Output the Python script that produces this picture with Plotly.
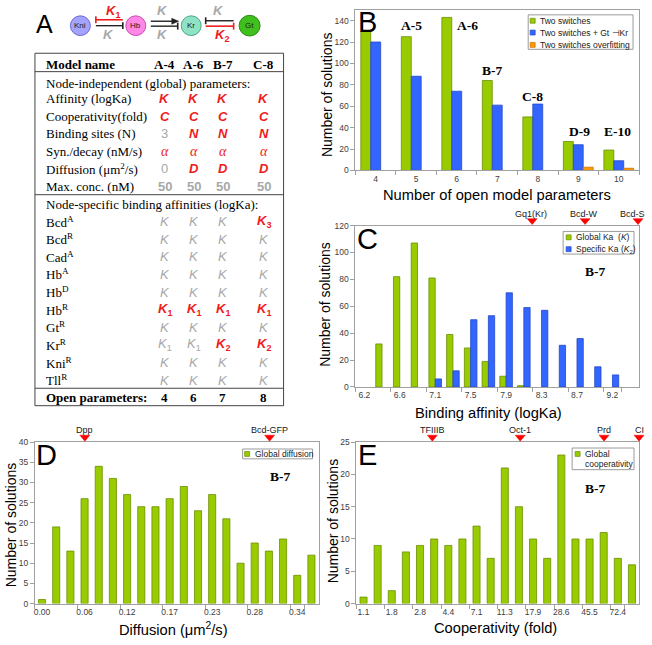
import plotly.graph_objects as go

W, H = 652, 645
def X(x): return x / W
def Y(y): return 1 - y / H

SANS = "Liberation Sans, Arial"
SERIF = "Liberation Serif, Times New Roman"
RED = "#ee1c1c"
GRAY = "#a8a8a8"
GREEN = "#99cc00"; GREEN_L = "#6b8e00"
BLUE = "#3366ff"; BLUE_L = "#2448c8"
ORANGE = "#ff9900"; ORANGE_L = "#c87000"

# ---------------- data ----------------
b_params = ["4", "5", "6", "7", "8", "9", "10"]
b_two_switches = [130, 125, 143, 84, 50, 27, 19]
b_two_switches_gt_kr = [120, 88, 74, 61, 62, 24, 9]
b_overfitting = [None, None, None, None, None, 3, 2]
b_model_labels = ["A-5", "A-6", "B-7", "C-8", "D-9", "E-10"]

c_logka = ["6.2", "6.4", "6.6", "6.9", "7.1", "7.3", "7.5", "7.7", "7.9", "8.1",
           "8.3", "8.5", "8.7", "9.0", "9.2", "9.4"]
c_global = [None, 32, 82, 107, 81, 39, 29, 19, 8, 1, None, None, None, None, None, None]
c_specific = [None, None, None, None, 6, 12, 50, 53, 70, 59, 57, 31, 36, 15, 9, None]
c_tick_labels = ["6.2", "6.6", "7.1", "7.5", "7.9", "8.3", "8.7", "9.2"]
c_refs = ["Gq1(Kr)", "Bcd-W", "Bcd-S"]

d_diffusion = ["0.00", "0.02", "0.04", "0.06", "0.08", "0.10", "0.12", "0.13", "0.15", "0.17",
               "0.19", "0.21", "0.23", "0.25", "0.27", "0.28", "0.30", "0.32", "0.34", "0.36"]
d_counts = [1, 19, 13, 26, 34, 31, 27, 24, 24, 26, 29, 23, 27, 21, 10, 15, 13, 16, 7, 12]
d_tick_labels = ["0.00", "0.06", "0.12", "0.17", "0.23", "0.28", "0.34"]
d_refs = ["Dpp", "Bcd-GFP"]

e_coop = ["1.1", "1.4", "1.8", "2.2", "2.8", "3.5", "4.4", "5.6", "7.1", "9.0",
          "11.3", "14.2", "17.9", "22.6", "28.6", "36.0", "45.5", "57.4", "72.4", "91.2"]
e_counts = [1, 9, 2, 8, 9, 10, 9, 10, 12, 7, 21, 15, 10, 7, 23, 10, 10, 11, 7, 6]
e_tick_labels = ["1.1", "1.8", "2.8", "4.4", "7.1", "11.3", "17.9", "28.6", "45.5", "72.4"]
e_refs = ["TFIIIB", "Oct-1", "Prd", "CI"]

# table A
models = ["A-4", "A-6", "B-7", "C-8"]
global_params = [
    ("Affinity (logKa)", ["rK", "rK", "rK", "rK"]),
    ("Cooperativity(fold)", ["rC", "rC", "rC", "rC"]),
    ("Binding sites (N)", ["g3", "rN", "rN", "rN"]),
    ("Syn./decay (nM/s)", ["rα", "rα", "rα", "rα"]),
    ("Diffusion (μm<sup>2</sup>/s)", ["g0", "rD", "rD", "rD"]),
    ("Max. conc. (nM)", ["g50", "g50", "g50", "g50"]),
]
specific_params = [
    ("Bcd<sup>A</sup>", ["gK", "gK", "gK", "rK3"]),
    ("Bcd<sup>R</sup>", ["gK", "gK", "gK", "gK"]),
    ("Cad<sup>A</sup>", ["gK", "gK", "gK", "gK"]),
    ("Hb<sup>A</sup>", ["gK", "gK", "gK", "gK"]),
    ("Hb<sup>D</sup>", ["gK", "gK", "gK", "gK"]),
    ("Hb<sup>R</sup>", ["rK1", "rK1", "rK1", "rK1"]),
    ("Gt<sup>R</sup>", ["gK", "gK", "gK", "gK"]),
    ("Kr<sup>R</sup>", ["gK1", "gK1", "rK2", "rK2"]),
    ("Kni<sup>R</sup>", ["gK", "gK", "gK", "gK"]),
    ("Tll<sup>R</sup>", ["gK", "gK", "gK", "gK"]),
]
open_params = ["4", "6", "7", "8"]

fig = go.Figure()

# ---------------- bars ----------------
def bar(x, y, color, lc, width, offset, xa, ya):
    return go.Bar(x=x, y=y, marker=dict(color=color, line=dict(color=lc, width=0.8)),
                  width=width, offset=offset, xaxis=xa, yaxis=ya, showlegend=False,
                  hoverinfo="x+y")

fig.add_trace(bar(b_params, b_two_switches, GREEN, GREEN_L, 0.245, -0.3675, "x", "y"))
fig.add_trace(bar(b_params, b_two_switches_gt_kr, BLUE, BLUE_L, 0.245, -0.1225, "x", "y"))
fig.add_trace(bar(b_params, b_overfitting, ORANGE, ORANGE_L, 0.245, 0.1225, "x", "y"))

fig.add_trace(bar(c_logka, c_global, GREEN, GREEN_L, 0.355, -0.355, "x2", "y2"))
fig.add_trace(bar(c_logka, c_specific, BLUE, BLUE_L, 0.355, 0.0, "x2", "y2"))

fig.add_trace(bar(d_diffusion, d_counts, GREEN, GREEN_L, 0.5, -0.25, "x3", "y3"))
fig.add_trace(bar(e_coop, e_counts, GREEN, GREEN_L, 0.5, -0.25, "x4", "y4"))

AXC = "#a0a0a0"
def xax(x0, x1, cats, ticks, anchor):
    return dict(domain=[X(x0), X(x1)], anchor=anchor, type="category",
                categoryorder="array", categoryarray=cats,
                tickmode="array", tickvals=ticks, ticktext=ticks, tickangle=0,
                tickson="boundaries", ticks="outside", ticklen=4, tickcolor=AXC,
                showline=True, linecolor=AXC, linewidth=1, mirror=True, showgrid=False,
                tickfont=dict(family=SANS, size=8.5, color="#404040"),
                range=[-0.5, len(cats) - 0.5], fixedrange=True)

def yax(y0, y1, rng, dtick, anchor):
    return dict(domain=[Y(y1), Y(y0)], anchor=anchor, range=rng, dtick=dtick,
                ticks="outside", ticklen=4, tickcolor=AXC, showline=True, linecolor=AXC,
                linewidth=1, mirror=True, showgrid=False, zeroline=False,
                tickfont=dict(family=SANS, size=8.5, color="#404040"), fixedrange=True)

anns = []
shapes = []

def text(x, y, t, size=9, family=SANS, color="black", xanchor="center", yanchor="middle", angle=0):
    anns.append(dict(x=X(x), y=Y(y), xref="paper", yref="paper", text=t, showarrow=False,
                     xanchor=xanchor, yanchor=yanchor, textangle=angle,
                     font=dict(family=family, size=size, color=color)))

def ytitle(x, y):
    text(x, y, "Number of solutions", size=14, angle=-90)

def line(x0, y0, x1, y1, color="black", width=1):
    shapes.append(dict(type="line", xref="paper", yref="paper", x0=X(x0), y0=Y(y0),
                       x1=X(x1), y1=Y(y1), line=dict(color=color, width=width)))

def rect(x0, y0, x1, y1, fill="rgba(0,0,0,0)", lc="black", lw=1):
    shapes.append(dict(type="rect", xref="paper", yref="paper", x0=X(x0), y0=Y(y1),
                       x1=X(x1), y1=Y(y0), fillcolor=fill, line=dict(color=lc, width=lw)))

def tri(x, ytip, color="#ff0000"):
    path = f"M {X(x-5)},{Y(ytip-6)} L {X(x+5)},{Y(ytip-6)} L {X(x)},{Y(ytip)} Z"
    shapes.append(dict(type="path", xref="paper", yref="paper", path=path,
                       fillcolor=color, line=dict(color=color, width=0.5)))

def legend_box(x0, y0, x1, y1, items):
    rect(x0, y0, x1, y1, fill="white", lc="#9a9a9a", lw=1)
    for (sx, sy, color, lc, label) in items:
        rect(sx, sy - 2.5, sx + 5, sy + 2.5, fill=color, lc=lc, lw=0.7)
        text(sx + 8, sy, label, size=8.5, color="#202020", xanchor="left")

# ---------------- Panel B ----------------
text(367, 17, "B", size=29)
for lab, (x, y) in zip(b_model_labels, [(411, 21), (467, 21), (492, 67), (532, 93), (579, 129), (617, 129)]):
    text(x, y, "<b>" + lab + "</b>", size=13.5, family=SERIF)
legend_box(528, 10, 633, 45, [
    (530, 16, GREEN, GREEN_L, "Two switches"),
    (530, 28, BLUE, BLUE_L, "Two switches + Gt ⊣Kr"),
    (530, 40.5, ORANGE, ORANGE_L, "Two switches overfitting"),
])
text(497, 193, "Number of open model parameters", size=14.7)
ytitle(326, 91)

# ---------------- Panel C ----------------
text(367, 238, "C", size=29)
text(595, 271, "<b>B-7</b>", size=13.5, family=SERIF)
legend_box(563, 230, 634, 253, [
    (566, 236, GREEN, GREEN_L, "Global Ka  (<i>K</i>)"),
    (566, 248, BLUE, BLUE_L, "Specific Ka (<i>K</i><sub>2</sub>)"),
])
for lab, x in zip(c_refs, [532, 585, 638]):
    tri(x, 223)
    tx = min(x - 1, 632)
    text(tx, 212, lab, size=9, color="#202020")
text(488, 414, "Binding affinity (logKa)", size=14.7)
ytitle(325, 304)

# ---------------- Panel D ----------------
text(46, 457, "D", size=29)
text(280, 479, "<b>B-7</b>", size=13.5, family=SERIF)
legend_box(242, 451, 312, 461, [(244, 456, GREEN, GREEN_L, "Global diffusion")])
for lab, x in zip(d_refs, [84, 269]):
    tri(x, 443)
    text(x, 432, lab, size=9, color="#202020")
text(173, 634, "Diffusion (μm<sup>2</sup>/s)", size=14.7)
ytitle(9.5, 528)

# ---------------- Panel E ----------------
text(367, 457, "E", size=29)
text(595, 491, "<b>B-7</b>", size=13.5, family=SERIF)
rect(572, 450, 634, 472, fill="white", lc="#9a9a9a")
rect(575, 453.5, 580, 458.5, fill=GREEN, lc=GREEN_L, lw=0.7)
text(583, 456, "Global", size=8.5, color="#202020", xanchor="left")
text(583, 466, "cooperativity", size=8.5, color="#202020", xanchor="left")
for lab, x in zip(e_refs, [432, 520, 604, 639]):
    tri(x, 443)
    text(x, 432, lab, size=9, color="#202020")
text(495, 633, "Cooperativity (fold)", size=14.7)
ytitle(332, 524)

# ---------------- Panel A: diagram ----------------
text(44, 19, "A", size=25)
def circle(cx, cy, r, fill, lc, label):
    shapes.append(dict(type="circle", xref="paper", yref="paper", x0=X(cx - r), x1=X(cx + r),
                       y0=Y(cy + r), y1=Y(cy - r), fillcolor=fill, line=dict(color=lc, width=1)))
    text(cx, cy, label, size=8, color="#202020")

circle(79.5, 21, 10, "#a4a4ff", "#6a6ad0", "Kni")
circle(135, 21, 10, "#ff88e6", "#c84cb0", "Hb")
circle(190.5, 21, 10, "#8fe2c4", "#4aa888", "Kr")
circle(249, 21, 10.5, "#3fc01c", "#2a8a10", "Gt")

DK = "#222222"
def tbar(x, y, color):
    line(x, y - 3.5, x, y + 3.5, color, 1.6)
# Kni - Hb
line(95, 15, 122, 15, RED, 1.6); tbar(95, 15, RED)
line(95, 21, 122, 21, DK, 1.4); tbar(122, 21, DK)
# Hb - Kr
line(150, 16.5, 172, 16.5, DK, 1.4)
shapes.append(dict(type="path", xref="paper", yref="paper",
                   path=f"M {X(171)},{Y(13.5)} L {X(178)},{Y(16.5)} L {X(171)},{Y(19.5)} Z",
                   fillcolor=DK, line=dict(color=DK, width=0.5)))
line(150, 21.5, 177, 21.5, DK, 1.4); tbar(177, 21.5, DK)
# Kr - Gt
line(205, 16, 233, 16, DK, 1.4); tbar(205, 16, DK)
line(205, 21.5, 233, 21.5, RED, 1.6); tbar(233, 21.5, RED)

def ktxt(x, y, t, color):
    text(x, y, t, size=13, color=color)
ktxt(112, 7, "<b><i>K</i><sub>1</sub></b>", RED)
ktxt(108, 30, "<b><i>K</i></b>", GRAY)
ktxt(162, 6, "<b><i>K</i></b>", GRAY)
ktxt(162, 30, "<b><i>K</i></b>", GRAY)
ktxt(218, 6, "<b><i>K</i></b>", GRAY)
ktxt(221, 31, "<b><i>K</i><sub>2</sub></b>", RED)

# ---------------- Panel A: table ----------------
TL, TR, TT, TB = 34, 283, 49, 407
rect(TL, TT, TR, TB, lc="#444444", lw=1)
for yy in [67.7, 192.7, 389.3]:
    line(TL, yy, TR, yy, "#444444", 1)
cols = [164, 193, 222, 263]
LX = 43
text(LX, 60.5, "<b>Model name</b>", size=13, family=SERIF, xanchor="left")
for cx, m in zip(cols, models):
    text(cx, 60.5, "<b>" + m + "</b>", size=13, family=SERIF)
text(LX, 79.3, "Node-independent (global) parameters:", size=13, family=SERIF, xanchor="left")
text(LX, 203, "Node-specific binding affinities (logKa):", size=13, family=SERIF, xanchor="left")

def cell(cx, cy, v):
    color = RED if v[0] == "r" else GRAY
    s = v[1:]
    if s == "α":
        text(cx, cy, "<i>α</i>", size=14, family=SERIF, color=color)
        return
    if s.isdigit():
        t = "<b>" + s + "</b>" if len(s) > 1 else s
        text(cx, cy, t, size=13, color=color)
        return
    base = "<i>" + s[0] + "</i>"
    if len(s) > 1:
        base += "<sub>" + s[1:] + "</sub>"
    if v[0] == "r":
        base = "<b>" + base + "</b>"
    text(cx, cy, base, size=13, color=color)

for i, (lab, vals) in enumerate(global_params):
    cy = 95 + i * 17.8
    text(LX, cy, lab, size=13, family=SERIF, xanchor="left")
    for cx, v in zip(cols, vals):
        cell(cx, cy, v)
for i, (lab, vals) in enumerate(specific_params):
    cy = 220 + i * 17.9
    text(LX, cy, lab, size=13, family=SERIF, xanchor="left")
    for cx, v in zip(cols, vals):
        cell(cx, cy, v)
text(LX, 398.3, "<b>Open parameters:</b>", size=13, family=SERIF, xanchor="left")
for cx, v in zip(cols, open_params):
    text(cx, 398.3, "<b>" + v + "</b>", size=13, family=SERIF)

fig.update_layout(
    width=W, height=H, margin=dict(l=0, r=0, t=0, b=0),
    paper_bgcolor="white", plot_bgcolor="white", barmode="overlay", showlegend=False,
    xaxis=xax(355, 639, b_params, b_params, "y"),
    yaxis=yax(5, 168, [0, 150], 20, "x"),
    xaxis2=xax(355, 639, c_logka, c_tick_labels, "y2"),
    yaxis2=yax(224, 388, [0, 120], 20, "x2"),
    xaxis3=xax(34, 318, d_diffusion, d_tick_labels, "y3"),
    yaxis3=yax(444, 608, [0, 40], 5, "x3"),
    xaxis4=xax(356, 639, e_coop, e_tick_labels, "y4"),
    yaxis4=yax(444, 608, [0, 25], 5, "x4"),
    annotations=anns, shapes=shapes,
)
fig.update_layout(yaxis=dict(tickvals=[0, 20, 40, 60, 80, 100, 120, 140]))

fig.write_html("out.html", config={"displayModeBar": False},
               post_script="document.body.style.margin='0px';document.body.style.overflow='hidden';")
